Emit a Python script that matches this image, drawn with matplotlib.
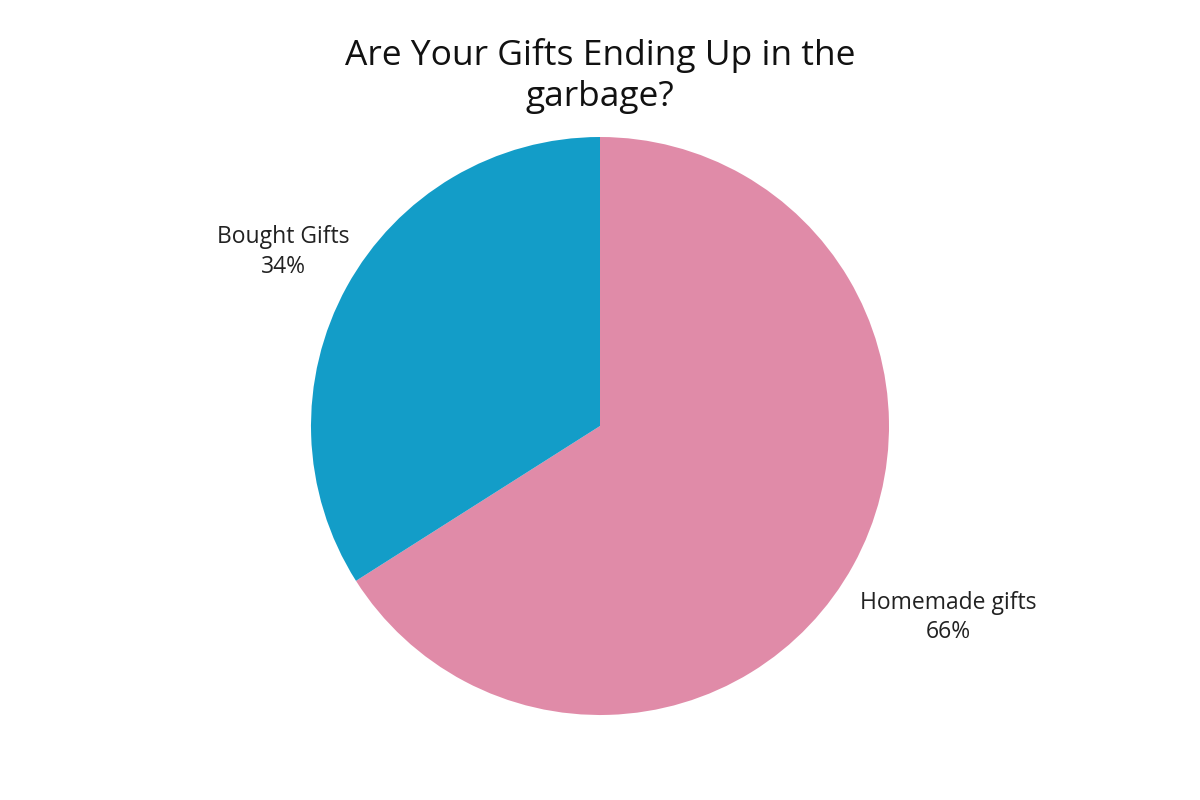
import numpy as np
import matplotlib
matplotlib.use('Agg')
import matplotlib.pyplot as plt

plt.rcParams['font.family'] = ['Open Sans', 'DejaVu Sans']

title = 'Are Your Gifts Ending Up in the\ngarbage?'
labels = ['Homemade gifts', 'Bought Gifts']
shares = [66, 34]
colors = ['#e08ba8', '#139dc8']

fig = plt.figure(figsize=(12, 8), dpi=100)
ax = fig.add_axes([0, 0, 1, 1])

wedges, texts = ax.pie(shares, colors=colors, startangle=90, counterclock=False,
                       center=(600, 374), radius=289, frame=True,
                       labels=[f'{l}\n{s}%' for l, s in zip(labels, shares)],
                       labeldistance=1.3,
                       textprops=dict(fontsize=16.5, color='#222222', ha='center', va='center',
                                      linespacing=1.3))
ax.set_xlim(0, 1200)
ax.set_ylim(0, 800)
ax.set_aspect('equal')
ax.axis('off')

# nudge the labels to where the reference puts them
dist = [1.375, 1.25]
for w, t, d in zip(wedges, texts, dist):
    ang = np.deg2rad((w.theta1 + w.theta2) / 2)
    t.set_position((600 + d * 289 * np.cos(ang), 374 + d * 289 * np.sin(ang)))
    t.set_ha('center')

fig.text(0.5, 0.905, title, ha='center', va='center', fontsize=25.5,
         color='#111111', linespacing=1.3)

fig.savefig('out.png', dpi=100, facecolor='white')
